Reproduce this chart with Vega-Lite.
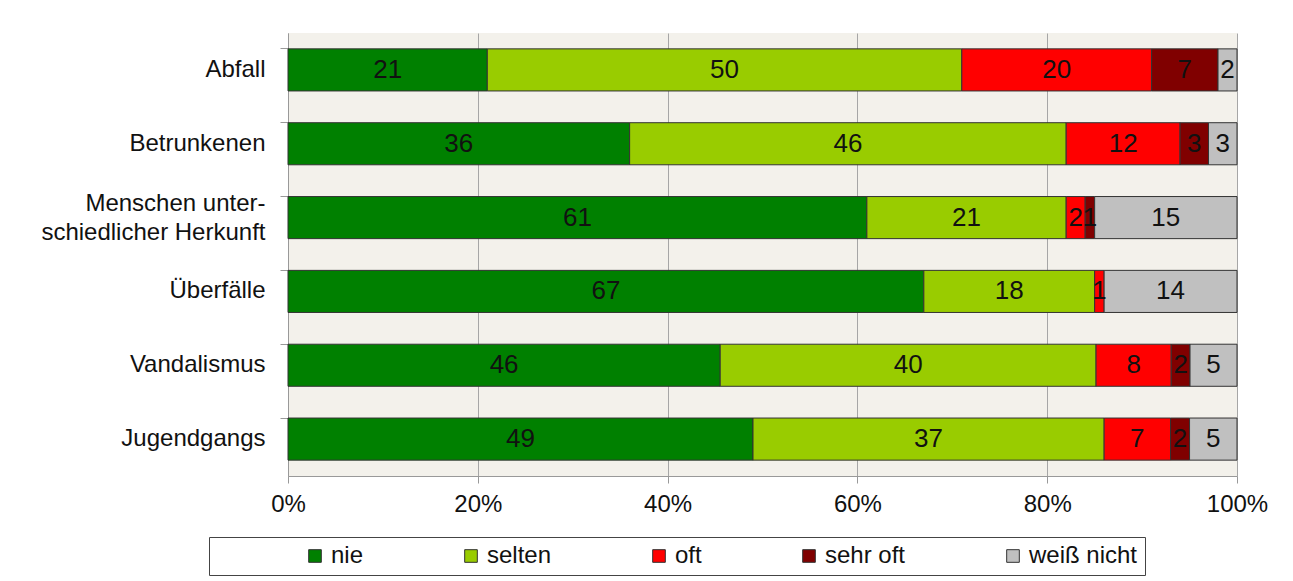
{
  "$schema": "https://vega.github.io/schema/vega-lite/v6.json",
  "width": 949,
  "height": 443,
  "padding": {"left": 40, "top": 33, "right": 10, "bottom": 5},
  "background": "white",
  "config": {
    "view": {"fill": "#f3f1eb", "stroke": null},
    "font": "Liberation Sans"
  },
  "data": {
    "values": [
      {"item": "Abfall", "cat": "nie", "o": 1, "v": 21},
      {"item": "Abfall", "cat": "selten", "o": 2, "v": 50},
      {"item": "Abfall", "cat": "oft", "o": 3, "v": 20},
      {"item": "Abfall", "cat": "sehr oft", "o": 4, "v": 7},
      {"item": "Abfall", "cat": "weiß nicht", "o": 5, "v": 2},
      {"item": "Betrunkenen", "cat": "nie", "o": 1, "v": 36},
      {"item": "Betrunkenen", "cat": "selten", "o": 2, "v": 46},
      {"item": "Betrunkenen", "cat": "oft", "o": 3, "v": 12},
      {"item": "Betrunkenen", "cat": "sehr oft", "o": 4, "v": 3},
      {"item": "Betrunkenen", "cat": "weiß nicht", "o": 5, "v": 3},
      {"item": "Menschen unter-|schiedlicher Herkunft", "cat": "nie", "o": 1, "v": 61},
      {"item": "Menschen unter-|schiedlicher Herkunft", "cat": "selten", "o": 2, "v": 21},
      {"item": "Menschen unter-|schiedlicher Herkunft", "cat": "oft", "o": 3, "v": 2},
      {"item": "Menschen unter-|schiedlicher Herkunft", "cat": "sehr oft", "o": 4, "v": 1},
      {"item": "Menschen unter-|schiedlicher Herkunft", "cat": "weiß nicht", "o": 5, "v": 15},
      {"item": "Überfälle", "cat": "nie", "o": 1, "v": 67},
      {"item": "Überfälle", "cat": "selten", "o": 2, "v": 18},
      {"item": "Überfälle", "cat": "oft", "o": 3, "v": 1},
      {"item": "Überfälle", "cat": "weiß nicht", "o": 5, "v": 14},
      {"item": "Vandalismus", "cat": "nie", "o": 1, "v": 46},
      {"item": "Vandalismus", "cat": "selten", "o": 2, "v": 40},
      {"item": "Vandalismus", "cat": "oft", "o": 3, "v": 8},
      {"item": "Vandalismus", "cat": "sehr oft", "o": 4, "v": 2},
      {"item": "Vandalismus", "cat": "weiß nicht", "o": 5, "v": 5},
      {"item": "Jugendgangs", "cat": "nie", "o": 1, "v": 49},
      {"item": "Jugendgangs", "cat": "selten", "o": 2, "v": 37},
      {"item": "Jugendgangs", "cat": "oft", "o": 3, "v": 7},
      {"item": "Jugendgangs", "cat": "sehr oft", "o": 4, "v": 2},
      {"item": "Jugendgangs", "cat": "weiß nicht", "o": 5, "v": 5}
    ]
  },
  "encoding": {
    "y": {
      "field": "item",
      "type": "nominal",
      "sort": null,
      "scale": {"paddingInner": 0.43, "paddingOuter": 0.215},
      "axis": {
        "title": null,
        "labelExpr": "split(datum.label, '|')",
        "labelFontSize": 24,
        "labelColor": "#111",
        "labelLineHeight": 29,
        "labelPadding": 15,
        "labelLimit": 400,
        "labelOffset": {"condition": {"test": "indexof(datum.value, '|') >= 0", "value": -14}, "value": 0},
        "tickSize": 8,
        "tickColor": "#999",
        "domainColor": "#999",
        "bandPosition": 0,
        "grid": false
      }
    },
    "x": {
      "field": "v",
      "type": "quantitative",
      "stack": "normalize",
      "axis": {
        "title": null,
        "format": ".0%",
        "values": [0, 0.2, 0.4, 0.6, 0.8, 1],
        "labelFontSize": 24,
        "labelColor": "#111",
        "labelPadding": 9,
        "labelFlush": false,
        "tickSize": 7,
        "tickColor": "#999",
        "domainColor": "#999",
        "grid": true,
        "gridColor": "#a6a6a6"
      }
    },
    "order": {"field": "o", "type": "quantitative"}
  },
  "layer": [
    {
      "mark": {"type": "bar", "stroke": "#333", "strokeWidth": 1},
      "encoding": {
        "color": {
          "field": "cat",
          "type": "nominal",
          "sort": ["nie", "selten", "oft", "sehr oft", "weiß nicht"],
          "scale": {
            "domain": ["nie", "selten", "oft", "sehr oft", "weiß nicht"],
            "range": ["#008000", "#99cc00", "#ff0000", "#800000", "#c0c0c0"]
          },
          "legend": {
            "title": " ",
            "titleOrient": "left",
            "titlePadding": 87,
            "titleFontSize": 24,
            "orient": "none",
            "legendX": -79,
            "legendY": 504,
            "direction": "horizontal",
            "labelFontSize": 24,
            "labelColor": "#111",
            "labelOffset": 4,
            "labelLimit": 400,
            "labelExpr": "datum.index == 4 ? 'weiß nicht\u2007\u2007\u2007\u2007\u2007\u2007\u2007\u2007\u2007\u2007\u2007\u2007\u2007\u2007\u2007\u2007' : datum.label",
            "symbolType": "square",
            "symbolSize": 160,
            "symbolStrokeColor": "#333",
            "symbolStrokeWidth": 1,
            "columnPadding": 95,
            "strokeColor": "#444",
            "padding": 7
          }
        }
      }
    },
    {
      "mark": {"type": "text", "fontSize": 26, "color": "#111"},
      "encoding": {
        "x": {"field": "v", "type": "quantitative", "stack": "normalize", "bandPosition": 0.5},
        "text": {"field": "v", "type": "quantitative"}
      }
    }
  ]
}
